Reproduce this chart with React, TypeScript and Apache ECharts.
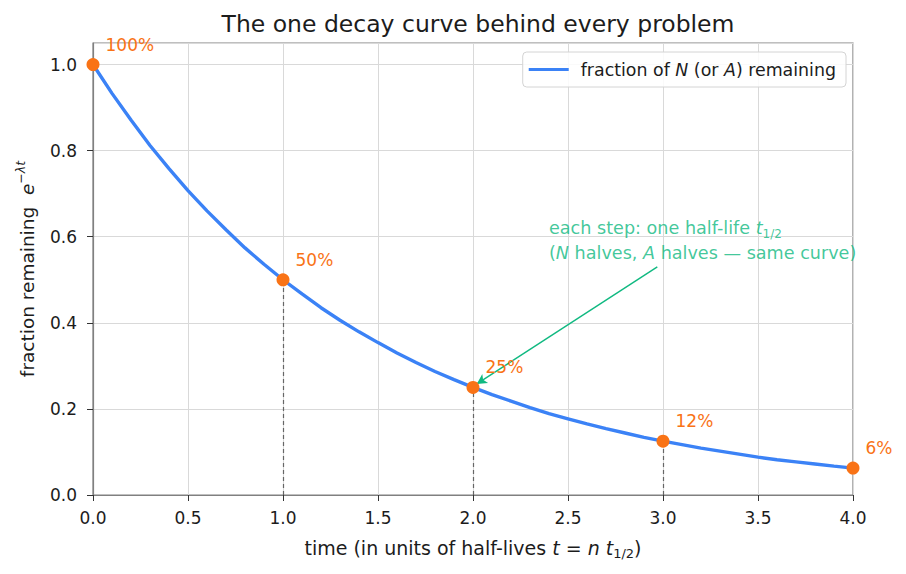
import React, { useEffect, useRef } from "react";
import * as echarts from "echarts";

// Sampled fraction remaining along the decay curve (t in half-lives)
const curveT = [
  0.0, 0.1, 0.2, 0.3, 0.4, 0.5, 0.6, 0.7, 0.8, 0.9,
  1.0, 1.1, 1.2, 1.3, 1.4, 1.5, 1.6, 1.7, 1.8, 1.9,
  2.0, 2.1, 2.2, 2.3, 2.4, 2.5, 2.6, 2.7, 2.8, 2.9,
  3.0, 3.1, 3.2, 3.3, 3.4, 3.5, 3.6, 3.7, 3.8, 3.9, 4.0,
];
const curveFraction = [
  1.0, 0.933, 0.871, 0.812, 0.758, 0.707, 0.66, 0.616, 0.574, 0.536,
  0.5, 0.467, 0.435, 0.406, 0.379, 0.354, 0.33, 0.308, 0.287, 0.268,
  0.25, 0.233, 0.218, 0.203, 0.189, 0.177, 0.165, 0.154, 0.144, 0.134,
  0.125, 0.117, 0.109, 0.102, 0.095, 0.088, 0.082, 0.077, 0.072, 0.067, 0.0625,
];

// Whole half-life checkpoints
const stepT = [0, 1, 2, 3, 4];
const stepFraction = [1.0, 0.5, 0.25, 0.125, 0.0625];
const stepLabels = ["100%", "50%", "25%", "12%", "6%"];

// Annotation anchor points (data coordinates)
const noteText: [number, number] = [2.4, 0.534];
const arrowTail: [number, number] = [2.97, 0.53];
const arrowHead: [number, number] = [2.02, 0.258];

const BLUE = "#3b82f6";
const ORANGE = "#f97316";
const GREEN = "#10b981";
const INK = "#1c1c1c";
const FONT = "DejaVu Sans";
const FS = 17;

export default function App() {
  const ref = useRef<HTMLDivElement>(null);

  useEffect(() => {
    document.body.style.margin = "0";
    const chart = echarts.init(ref.current!, null, { renderer: "svg" });

    const dropLines = stepT
      .map((t, i) => ({ t, f: stepFraction[i] }))
      .filter((p) => p.t > 0 && p.t < 4)
      .map((p) => [{ coord: [p.t, 0] }, { coord: [p.t, p.f] }]);

    chart.setOption({
      animation: false,
      textStyle: { fontFamily: FONT, color: INK },
      title: {
        text: "The one decay curve behind every problem",
        left: 473,
        top: 7,
        textAlign: "center",
        textStyle: { fontFamily: FONT, fontSize: 23.5, fontWeight: "normal", color: INK },
      },
      grid: {
        left: 93,
        right: 53,
        top: 43,
        bottom: 79,
        show: true,
        borderColor: "#808080",
        borderWidth: 1.2,
      },
      legend: {
        right: 60,
        top: 52,
        padding: [9, 10, 9, 6],
        itemWidth: 40,
        itemHeight: 3,
        borderColor: "#d4d4d4",
        borderWidth: 1,
        borderRadius: 4,
        backgroundColor: "rgba(255,255,255,0.85)",
        data: [{ name: "curve", icon: "rect" }],
        formatter: () => "{n|fraction of }{i|N}{n| (or }{i|A}{n|) remaining}",
        textStyle: {
          fontFamily: FONT,
          fontSize: 17.4,
          color: INK,
          padding: [0, 0, 0, 7],
          rich: {
            n: { fontFamily: FONT, fontSize: 17.4, color: INK },
            i: { fontFamily: FONT, fontSize: 17.4, color: INK, fontStyle: "italic" },
          },
        },
      },
      xAxis: {
        type: "value",
        min: 0,
        max: 4,
        interval: 0.5,
        name: "{n|time (in units of half-lives }{i|t}{n| = }{i|n}{n| }{i|t}{s|1/2}{n|)}",
        nameLocation: "middle",
        nameGap: 40,
        nameTextStyle: {
          rich: {
            n: { fontFamily: FONT, fontSize: 19, color: INK, lineHeight: 25 },
            i: { fontFamily: FONT, fontSize: 19, color: INK, fontStyle: "italic", lineHeight: 25 },
            s: { fontFamily: FONT, fontSize: 13, color: INK, verticalAlign: "bottom", lineHeight: 16 },
          },
        },
        axisLine: { show: true, lineStyle: { color: "#808080", width: 1.2 } },
        axisTick: { show: true, length: 6, lineStyle: { color: "#333" } },
        axisLabel: {
          fontFamily: FONT,
          fontSize: FS,
          color: INK,
          margin: 14,
          formatter: (v: number) => v.toFixed(1),
        },
        splitLine: { show: true, lineStyle: { color: "#d9d9d9", width: 1 } },
      },
      yAxis: {
        type: "value",
        min: 0,
        max: 1.05,
        interval: 0.2,
        name: "{n|fraction remaining  }{e|e}{p|−λt}",
        nameLocation: "middle",
        nameRotate: 90,
        nameGap: 53,
        nameTextStyle: {
          rich: {
            n: { fontFamily: FONT, fontSize: 18.5, color: INK, lineHeight: 26 },
            e: { fontFamily: FONT, fontSize: 18.5, color: INK, fontStyle: "italic", lineHeight: 26 },
            p: { fontFamily: FONT, fontSize: 12.5, color: INK, fontStyle: "italic", verticalAlign: "top", lineHeight: 15 },
          },
        },
        axisLine: { show: true, lineStyle: { color: "#808080", width: 1.2 } },
        axisTick: { show: true, length: 6, lineStyle: { color: "#333" } },
        axisLabel: {
          fontFamily: FONT,
          fontSize: FS,
          color: INK,
          margin: 16,
          showMaxLabel: false,
          formatter: (v: number) => v.toFixed(1),
        },
        splitLine: { show: true, lineStyle: { color: "#d9d9d9", width: 1 } },
      },
      series: [
        {
          name: "curve",
          type: "line",
          data: curveT.map((t, i) => [t, curveFraction[i]]),
          showSymbol: false,
          lineStyle: { color: BLUE, width: 3.4 },
          itemStyle: { color: BLUE },
          z: 3,
          markLine: {
            silent: true,
            symbol: ["none", "none"],
            label: { show: false },
            lineStyle: { color: "#666", type: [4, 3], width: 1.2 },
            data: dropLines,
          },
        },
        {
          name: "steps",
          type: "scatter",
          data: stepT.map((t, i) => [t, stepFraction[i]]),
          symbolSize: 13,
          itemStyle: { color: ORANGE, opacity: 1 },
          z: 5,
          clip: false,
          label: {
            show: true,
            position: [19, -22],
            fontFamily: FONT,
            fontSize: FS,
            color: ORANGE,
            formatter: (p: any) => stepLabels[p.dataIndex],
          },
        },
        {
          name: "note",
          type: "scatter",
          data: [noteText],
          symbolSize: 0,
          silent: true,
          z: 6,
          label: {
            show: true,
            position: [0, 0],
            align: "left",
            verticalAlign: "bottom",
            formatter:
              "{n|each step: one half-life }{i|t}{s|1/2}\n{n|(}{i|N}{n| halves, }{i|A}{n| halves — same curve)}",
            rich: {
              n: { fontFamily: FONT, fontSize: 17.6, color: GREEN, lineHeight: 25 },
              i: { fontFamily: FONT, fontSize: 17.6, color: GREEN, fontStyle: "italic", lineHeight: 25 },
              s: { fontFamily: FONT, fontSize: 12, color: GREEN, verticalAlign: "bottom", lineHeight: 17 },
            },
          },
          markLine: {
            silent: true,
            symbol: ["none", "arrow"],
            symbolSize: [8, 10],
            label: { show: false },
            lineStyle: { color: GREEN, type: "solid", width: 1.4 },
            data: [[{ coord: arrowTail }, { coord: arrowHead }]],
          },
        },
      ],
    });

    return () => chart.dispose();
  }, []);

  return <div ref={ref} style={{ width: 906, height: 574 }} />;
}
